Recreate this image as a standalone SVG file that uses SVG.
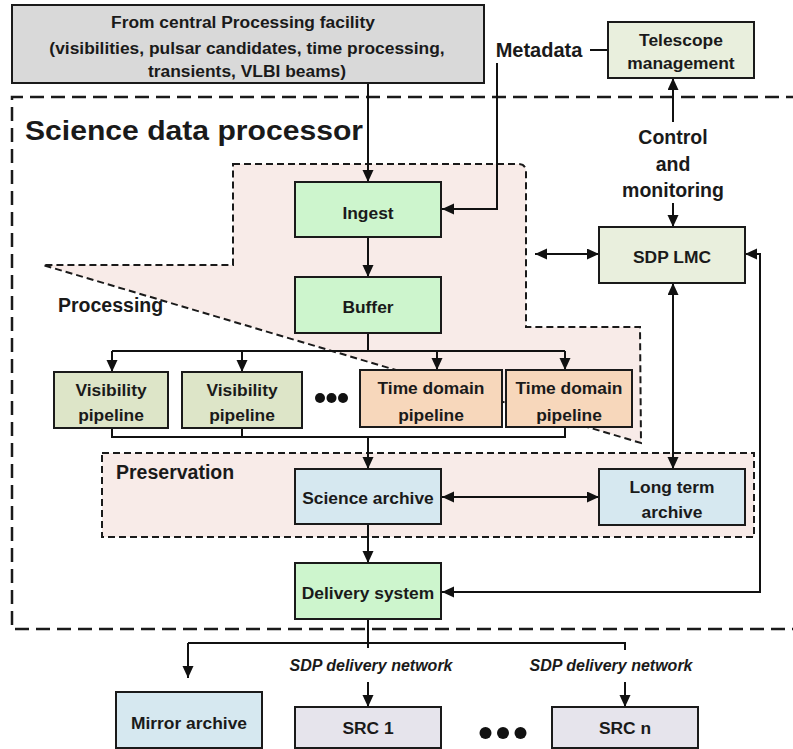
<svg xmlns="http://www.w3.org/2000/svg" width="793" height="749" viewBox="0 0 793 749">
  <defs>
    <marker id="arrow" markerUnits="userSpaceOnUse" markerWidth="13" markerHeight="12" refX="12" refY="5.5" orient="auto-start-reverse">
      <path d="M0,0 L12,5.5 L0,11 Z" fill="#111"/>
    </marker>
    <style>
      text { font-family: "Liberation Sans", Arial, Helvetica, sans-serif; font-weight: bold; fill: #1a1a1a; text-anchor: middle; }
      .box { stroke: #1a1a1a; stroke-width: 2; }
      .green { fill: #cdf5cd; }
      .olive { fill: #dde5c8; }
      .peach { fill: #f7d7bb; }
      .blue { fill: #d6e8f0; }
      .pale { fill: #e9efdd; }
      .lav { fill: #e6e4ec; }
      .grey { fill: #d9d9d9; }
      .region { fill: #f8ebe8; stroke: #1a1a1a; stroke-width: 2; stroke-dasharray: 7 4; }
      .outer { fill: none; stroke: #1a1a1a; stroke-width: 2.5; stroke-dasharray: 14 7; }
      .conn { fill: none; stroke: #111; stroke-width: 2; }
      .arr { marker-end: url(#arrow); }
      .both { marker-start: url(#arrow); marker-end: url(#arrow); }
      .lbl { font-size: 17.4px; }
      .big { font-size: 19.5px; }
      .net { font-size: 16px; font-style: italic; }
      .dots { fill: #111; }
    </style>
  </defs>

  <rect width="793" height="749" fill="#ffffff"/>

  <!-- Science data processor boundary -->
  <g id="sdp-boundary">
    <path class="outer" d="M800,97 L12,97 L12,629 L800,629"/>
    <text x="25" y="140" textLength="338" lengthAdjust="spacingAndGlyphs" style="font-size:28px;text-anchor:start">Science data processor</text>
  </g>

  <!-- Processing region -->
  <g id="processing-region">
    <path class="region" d="M233,164 L518,164 Q526,164 526,172 L526,327 L640,327 L641,443 L43,265 L233,265 Z"/>
    <text class="big" x="58" y="312" style="text-anchor:start">Processing</text>
  </g>

  <!-- Preservation region -->
  <g id="preservation-region">
    <rect class="region" x="102" y="453" width="652" height="84"/>
    <text class="big" x="116" y="479" style="text-anchor:start">Preservation</text>
  </g>

  <!-- Connectors -->
  <g id="connectors">
    <path class="conn arr" d="M368,83 L368,182"/>
    <path class="conn" d="M590,50 L608,50"/>
    <path class="conn arr" d="M497,63 L497,209 L442,209"/>
    <path class="conn arr" d="M368,237 L368,277"/>
    <path class="conn" d="M368,333 L368,351"/>
    <path class="conn" d="M112,351 L565,351"/>
    <path class="conn arr" d="M112,351 L112,372"/>
    <path class="conn arr" d="M242,351 L242,372"/>
    <path class="conn arr" d="M437,351 L437,370"/>
    <path class="conn arr" d="M565,351 L565,370"/>
    <path class="conn" d="M112,428 L112,437 L565,437 L565,427"/>
    <path class="conn" d="M242,428 L242,437"/>
    <path class="conn arr" d="M368,437 L368,469"/>
    <path class="conn both" d="M442,497 L599,497"/>
    <path class="conn arr" d="M368,524 L368,563"/>
    <path class="conn both" d="M442,592 L760,592 L760,254 L745,254"/>
    <path class="conn both" d="M535,254 L599,254"/>
    <path class="conn both" d="M673,283 L673,469"/>
    <path class="conn arr" d="M673,122 L673,78"/>
    <path class="conn arr" d="M673,203 L673,227"/>
    <path class="conn" d="M368,619 L368,648"/>
    <path class="conn" d="M188,643 L625,643 L625,650"/>
    <path class="conn arr" d="M188,643 L188,678"/>
    <path class="conn arr" d="M368,682 L368,707"/>
    <path class="conn arr" d="M625,682 L625,707"/>
  </g>

  <!-- Nodes -->
  <g id="central-processing">
    <rect class="box grey" x="12" y="5" width="472" height="78"/>
    <text class="lbl" x="243" y="28">From central Processing facility</text>
    <text class="lbl" x="247" y="54">(visibilities, pulsar candidates, time processing,</text>
    <text class="lbl" x="247" y="77">transients, VLBI beams)</text>
  </g>

  <g id="metadata">
    <text x="539" y="57" style="font-size:20px">Metadata</text>
  </g>

  <g id="telescope-management">
    <rect class="box pale" x="608" y="22" width="146" height="56"/>
    <text class="lbl" x="681" y="46">Telescope</text>
    <text class="lbl" x="681" y="69">management</text>
  </g>

  <g id="control-monitoring">
    <text class="big" x="673" y="144">Control</text>
    <text class="big" x="673" y="171">and</text>
    <text class="big" x="673" y="197">monitoring</text>
  </g>

  <g id="ingest">
    <rect class="box green" x="295" y="182" width="146" height="55"/>
    <text class="lbl" x="368" y="219">Ingest</text>
  </g>

  <g id="buffer">
    <rect class="box green" x="295" y="277" width="146" height="56"/>
    <text class="lbl" x="368" y="313">Buffer</text>
  </g>

  <g id="sdp-lmc">
    <rect class="box pale" x="599" y="227" width="146" height="56"/>
    <text class="lbl" x="672" y="263">SDP LMC</text>
  </g>

  <g id="visibility-pipeline-1">
    <rect class="box olive" x="54" y="372" width="114" height="56"/>
    <text class="lbl" x="111" y="396">Visibility</text>
    <text class="lbl" x="111" y="421">pipeline</text>
  </g>

  <g id="visibility-pipeline-2">
    <rect class="box olive" x="182" y="372" width="120" height="56"/>
    <text class="lbl" x="242" y="396">Visibility</text>
    <text class="lbl" x="242" y="421">pipeline</text>
  </g>

  <g id="pipeline-ellipsis">
    <circle class="dots" cx="320" cy="398" r="5"/>
    <circle class="dots" cx="331.5" cy="398" r="5"/>
    <circle class="dots" cx="343" cy="398" r="5"/>
  </g>

  <g id="time-domain-pipeline-1">
    <rect class="box peach" x="360" y="370" width="142" height="57"/>
    <text class="lbl" x="431" y="394">Time domain</text>
    <text class="lbl" x="431" y="421">pipeline</text>
  </g>

  <g id="time-domain-pipeline-2">
    <rect class="box peach" x="506" y="370" width="126" height="57"/>
    <text class="lbl" x="569" y="394">Time domain</text>
    <text class="lbl" x="569" y="421">pipeline</text>
  </g>

  <g id="science-archive">
    <rect class="box blue" x="295" y="469" width="146" height="55"/>
    <text class="lbl" x="368" y="504">Science archive</text>
  </g>

  <g id="long-term-archive">
    <rect class="box blue" x="599" y="469" width="146" height="56"/>
    <text class="lbl" x="672" y="493">Long term</text>
    <text class="lbl" x="672" y="518">archive</text>
  </g>

  <g id="delivery-system">
    <rect class="box green" x="295" y="563" width="146" height="56"/>
    <text class="lbl" x="368" y="599">Delivery system</text>
  </g>

  <g id="delivery-network-labels">
    <text class="net" x="371" y="671">SDP delivery network</text>
    <text class="net" x="611" y="671">SDP delivery network</text>
  </g>

  <g id="mirror-archive">
    <rect class="box blue" x="116" y="692" width="146" height="56"/>
    <text class="lbl" x="189" y="729">Mirror archive</text>
  </g>

  <g id="src-1">
    <rect class="box lav" x="295" y="707" width="146" height="41"/>
    <text class="lbl" x="368" y="734">SRC 1</text>
  </g>

  <g id="src-ellipsis">
    <circle class="dots" cx="485.5" cy="733" r="6"/>
    <circle class="dots" cx="503" cy="733" r="6"/>
    <circle class="dots" cx="520.5" cy="733" r="6"/>
  </g>

  <g id="src-n">
    <rect class="box lav" x="552" y="707" width="146" height="41"/>
    <text class="lbl" x="625" y="734">SRC n</text>
  </g>
</svg>
